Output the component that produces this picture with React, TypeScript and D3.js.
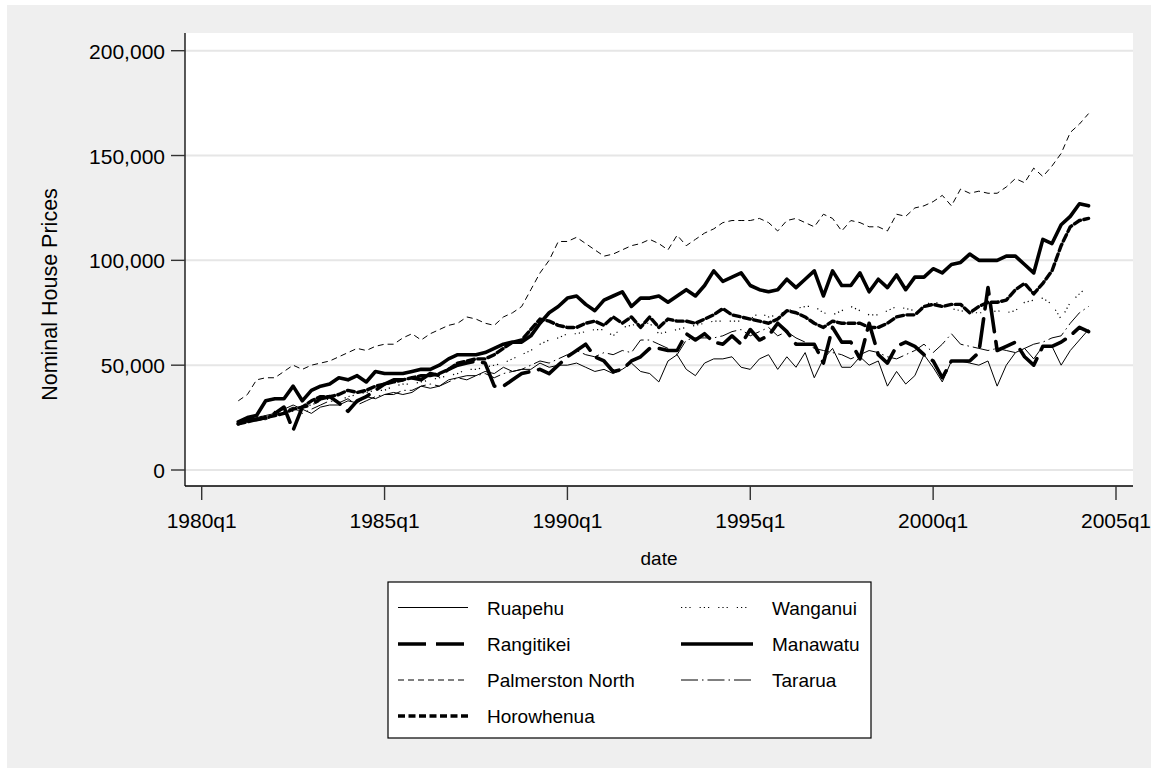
import React from "react";
import * as d3 from "d3";

// Quarterly data, 1981q1 .. 2004q2, values in thousands of dollars
const startYear = 1981;

const ruapehu = [
  23, 24, 25, 26, 27, 29, 31, 29, 27, 30,
  31, 31, 33, 32, 35, 34, 36, 37, 36, 37,
  40, 39, 40, 43, 44, 45, 45, 47, 46, 49,
  47, 48, 48, 51, 49, 50, 50, 51, 49, 47,
  48, 46, 48, 51, 47, 46, 42, 52, 55, 48,
  45, 51, 53, 53, 54, 49, 48, 53, 55, 48,
  54, 49, 56, 44, 53, 58, 49, 49, 54, 50,
  52, 40, 47, 41, 45, 55, 49, 42, 52, 52,
  51, 50, 52, 40, 50, 56, 58, 53, 59, 59,
  50, 57, 62, 67,
];

const wanganui = [
  23, 24, 25, 26, 28, 29, 28, 30, 31, 33,
  34, 33, 35, 36, 37, 38, 38, 40, 41, 41,
  42, 43, 44, 45, 46, 48, 48, 49, 50, 51,
  53, 55, 57, 60, 62, 63, 65, 65, 66, 67,
  67, 64, 68, 69, 70, 70, 65, 66, 67, 68,
  69, 70, 71, 71, 71, 71, 72, 75, 73, 74,
  76, 77, 78, 78, 75, 74, 76, 78, 76, 74,
  74, 76, 78, 77, 76, 78, 81, 78, 77, 76,
  75, 75, 75, 76, 75, 76, 80, 81, 82, 79,
  72, 80, 84, 88,
];

const rangitikei = [
  22, 24, 24, 25, 27, 30, 19, 30, 31, 34,
  35, 32, 28, 33, 35, 38, 41, 43, 43, 44,
  43, 46, 45, 48, 50, 51, 52, 51, 40, 40,
  43, 46, 47, 48, 46, 50, 54, 57, 60, 54,
  52, 47, 48, 52, 54, 58, 58, 57, 57, 65,
  62, 65, 61, 60, 64, 60, 67, 62, 64, 70,
  66, 60, 60, 60, 51, 68, 61, 61, 53, 70,
  55, 51, 59, 61, 59, 55, 52, 44, 52, 52,
  52, 56, 87, 57, 59, 61, 54, 50, 59, 59,
  61, 64, 68, 66,
];

const manawatu = [
  23, 25, 26, 33, 34, 34, 40, 33, 38, 40,
  41, 44, 43, 45, 42, 47, 46, 46, 46, 47,
  48, 48, 50, 53, 55, 55, 55, 56, 58, 60,
  61, 61, 64, 70, 75, 78, 82, 83, 79, 76,
  81, 83, 85, 78, 82, 82, 83, 80, 83, 86,
  83, 88, 95, 90, 92, 94, 88, 86, 85, 86,
  91, 87, 91, 95, 83, 95, 88, 88, 94, 85,
  91, 87, 93, 86, 92, 92, 96, 94, 98, 99,
  103, 100, 100, 100, 102, 102, 98, 94, 110, 108,
  117, 121, 127, 126,
];

const palmerstonNorth = [
  33, 36, 43, 44, 44, 47, 50, 48, 50, 51,
  52, 54, 56, 58, 57, 59, 60, 60, 63, 65,
  62, 65, 67, 69, 70, 73, 72, 70, 69, 73,
  75, 78, 86, 94, 100, 109, 109, 111, 108, 105,
  102, 103, 105, 107, 108, 110, 108, 105, 112, 107,
  110, 113, 115, 118, 119, 119, 119, 120, 118, 114,
  119, 120, 118, 116, 122, 120, 114, 119, 118, 116,
  116, 114, 122, 121, 125, 126, 128, 131, 126, 134,
  132, 133, 132, 132, 135, 139, 137, 144, 140, 145,
  151, 161, 165, 170,
];

const tararua = [
  22, 23, 24, 24, 26, 28, 30, 27, 29, 31,
  33, 32, 34, 31, 33, 35, 36, 36, 38, 38,
  40, 41, 40, 42, 44, 43, 45, 46, 44, 46,
  47, 48, 50, 52, 51, 53, 55, 57, 55, 54,
  56, 55, 57, 56, 62, 62, 60, 58, 55, 62,
  63, 63, 63, 64, 66, 67, 64, 66, 68, 64,
  66, 63, 61, 58, 57, 56, 55, 53, 55, 57,
  56, 54, 53, 55, 57, 60, 56, 60, 65, 60,
  59, 58, 57, 58, 57, 56, 58, 60, 61, 63,
  64, 70, 75, 78,
];

const horowhenua = [
  22, 23, 24, 25, 26, 27, 29, 30, 33, 35,
  35, 36, 38, 37, 38, 40, 41, 42, 43, 44,
  45, 45, 46, 48, 51, 52, 53, 53, 55, 58,
  61, 62, 67, 72, 71, 69, 68, 68, 70, 71,
  69, 73, 70, 73, 68, 73, 68, 72, 71, 71,
  70, 72, 74, 77, 74, 73, 72, 71, 70, 72,
  76, 75, 73, 70, 68, 71, 70, 70, 70, 68,
  68, 70, 73, 74, 74, 78, 79, 78, 79, 79,
  75, 78, 80, 80, 81, 86, 89, 84, 89, 95,
  107, 116, 119, 120,
];

const yTicks = [0, 50000, 100000, 150000, 200000];
const xTickYears = [1980, 1985, 1990, 1995, 2000, 2005];

const seriesNames = [
  "Ruapehu",
  "Wanganui",
  "Rangitikei",
  "Manawatu",
  "Palmerston North",
  "Tararua",
  "Horowhenua",
];
const seriesValues = [ruapehu, wanganui, rangitikei, manawatu, palmerstonNorth, tararua, horowhenua];

// style config (not data)
const styles: Record<string, { w: number; dash: string | undefined }> = {
  Ruapehu: { w: 1, dash: undefined },
  Wanganui: { w: 1.2, dash: "1.2 3 1.2 3 1.2 9" },
  Rangitikei: { w: 3.6, dash: "28 10" },
  Manawatu: { w: 3.6, dash: undefined },
  "Palmerston North": { w: 1, dash: "6 4" },
  Tararua: { w: 1, dash: "17 4 1.5 4" },
  Horowhenua: { w: 3.4, dash: "7 3.5" },
};

const W = 1158;
const H = 773;
const plotL = 185;
const plotR = 1133;
const plotT = 33;
const plotB = 486;

const FONT = "'Liberation Sans', Arial, Helvetica, sans-serif";

export default function App() {
  const x = d3.scaleLinear().domain([1980, 2005]).range([201.7, 1116]);
  const y = d3.scaleLinear().domain([0, 200000]).range([470, 50.7]);

  const line = d3
    .line<number>()
    .x((_, i) => x(startYear + i / 4))
    .y((v) => y(v * 1000));

  const legendRows = [
    ["Ruapehu", "Wanganui"],
    ["Rangitikei", "Manawatu"],
    ["Palmerston North", "Tararua"],
    ["Horowhenua", null],
  ];
  const legendRowY = [607.5, 644, 680, 716];
  const colLineX = [
    [398, 468],
    [681, 753],
  ];
  const colTextX = [487, 772];

  return (
    <svg
      width={W}
      height={H}
      style={{ position: "absolute", left: 0, top: 0, background: "#ffffff" }}
      fontFamily={FONT}
    >
      <rect x={0} y={0} width={W} height={H} fill="#ffffff" />
      <rect x={7} y={5} width={W - 14} height={H - 10} fill="#efefef" />
      <rect x={plotL} y={plotT} width={plotR - plotL} height={plotB - plotT} fill="#ffffff" />

      {/* gridlines */}
      {yTicks.map((t) => (
        <line key={"g" + t} x1={plotL} x2={plotR} y1={y(t)} y2={y(t)} stroke="#e6e6e6" strokeWidth={2} />
      ))}

      {/* series */}
      {seriesNames.map((name, k) => (
        <path
          key={name}
          d={line(seriesValues[k]) || ""}
          fill="none"
          stroke="#000"
          strokeWidth={styles[name].w}
          strokeDasharray={styles[name].dash}
          strokeLinejoin="round"
          strokeLinecap={styles[name].w > 2 ? "round" : "butt"}
        />
      ))}

      {/* axes */}
      <line x1={plotL} x2={plotL} y1={plotT} y2={plotB} stroke="#000" strokeWidth={1.3} />
      <line x1={plotL} x2={plotR} y1={plotB} y2={plotB} stroke="#000" strokeWidth={1.3} />

      {yTicks.map((t) => (
        <g key={"yt" + t}>
          <line x1={171} x2={plotL} y1={y(t)} y2={y(t)} stroke="#333" strokeWidth={1.4} />
          <text x={165} y={y(t) + 8} textAnchor="end" fontSize={21} fill="#000">
            {d3.format(",")(t)}
          </text>
        </g>
      ))}

      {xTickYears.map((yr) => (
        <g key={"xt" + yr}>
          <line x1={x(yr)} x2={x(yr)} y1={plotB} y2={500} stroke="#333" strokeWidth={1.4} />
          <text x={x(yr)} y={528} textAnchor="middle" fontSize={21} fill="#000">
            {yr + "q1"}
          </text>
        </g>
      ))}

      <text x={659} y={565} textAnchor="middle" fontSize={19} fill="#000">
        date
      </text>
      <text
        transform={`translate(57, ${(plotT + plotB) / 2 + 35}) rotate(-90)`}
        textAnchor="middle"
        fontSize={21.5}
        fill="#000"
      >
        Nominal House Prices
      </text>

      {/* legend */}
      <rect x={388} y={582} width={483} height={156} fill="#ffffff" stroke="#000" strokeWidth={1.2} />
      {legendRows.map((row, r) =>
        row.map((name, c) =>
          name ? (
            <g key={name}>
              <line
                x1={colLineX[c][0]}
                x2={colLineX[c][1]}
                y1={legendRowY[r]}
                y2={legendRowY[r]}
                stroke="#000"
                strokeWidth={styles[name].w}
                strokeDasharray={styles[name].dash}
              />
              <text x={colTextX[c]} y={legendRowY[r] + 7} fontSize={19} fill="#000">
                {name}
              </text>
            </g>
          ) : null
        )
      )}
    </svg>
  );
}
